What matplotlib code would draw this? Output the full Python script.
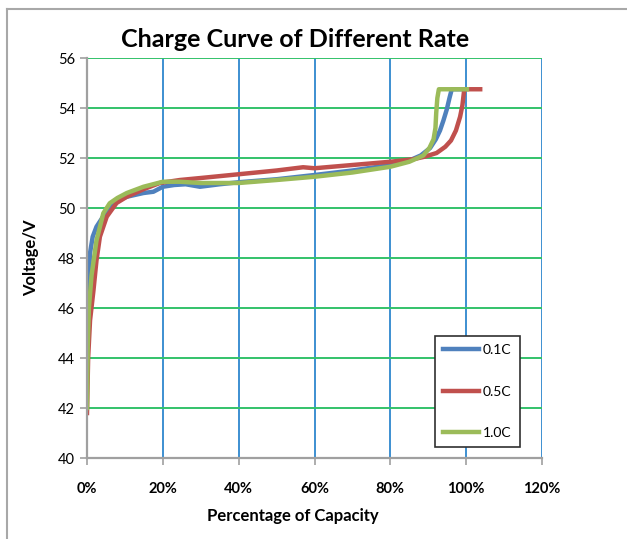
import matplotlib
matplotlib.use('Agg')
import matplotlib.pyplot as plt
from matplotlib.lines import Line2D
from matplotlib.ticker import FuncFormatter

# ── DATA ────────────────────────────────────────────────────────────────────
pct_01c = [0, 0.3, 0.8, 1.5, 2.5, 4, 5.2, 7.8, 10.5, 14.9, 17.5, 20, 23, 26,
           29.8, 35, 40, 50, 60, 70, 80, 85, 88, 90.5, 92, 93.1, 94, 94.9,
           95.6, 96.2, 98.5]
v_01c = [44.0, 46.6, 48.2, 48.85, 49.25, 49.6, 49.8, 50.3, 50.45, 50.6, 50.65,
         50.85, 50.92, 50.95, 50.85, 50.95, 51.03, 51.15, 51.32, 51.5, 51.72,
         51.9, 52.1, 52.4, 52.75, 53.1, 53.5, 53.95, 54.4, 54.75, 54.75]

pct_05c = [0, 0.3, 0.8, 1.7, 2.5, 3.4, 5.2, 7.8, 10.5, 14.9, 19.2, 24.5, 30,
           40, 50, 57, 60, 70, 80, 86, 89, 92.2, 94.5, 96, 97.3, 98.4, 99,
           99.5, 103.7]
v_05c = [41.8, 44.0, 45.5, 46.7, 47.9, 48.85, 49.65, 50.2, 50.45, 50.75, 51.0,
         51.12, 51.2, 51.35, 51.5, 51.63, 51.59, 51.72, 51.85, 51.95, 52.05,
         52.2, 52.45, 52.7, 53.1, 53.65, 54.1, 54.75, 54.75]

pct_10c = [0, 0.2, 0.5, 1.2, 2.5, 4.3, 6, 8, 10.5, 14.9, 20, 24.5, 30, 40,
           50, 60, 70, 80, 85, 88.7, 90.3, 91.4, 91.9, 92.1, 92.4, 92.8, 100.2]
v_10c = [42.0, 44.5, 46.0, 47.3, 48.7, 49.79, 50.19, 50.4, 50.6, 50.85, 51.05,
         51.05, 51.0, 51.0, 51.12, 51.25, 51.42, 51.65, 51.85, 52.1, 52.4,
         52.75, 53.2, 53.8, 54.4, 54.75, 54.75]

series = [("0.1C", pct_01c, v_01c, '#4F81BD'),
          ("0.5C", pct_05c, v_05c, '#C0504D'),
          ("1.0C", pct_10c, v_10c, '#9BBB59')]

x_ticks = [0, 20, 40, 60, 80, 100, 120]
y_ticks = [40, 42, 44, 46, 48, 50, 52, 54, 56]

plt.rcParams['font.family'] = ['Lato', 'DejaVu Sans']

# ── FIGURE ──────────────────────────────────────────────────────────────────
fig = plt.figure(figsize=(6.27, 5.39), dpi=100)
ax = fig.add_axes([87/627, 1 - 458/539, 455/627, 400/539])

for label, x, y, color in series:
    ax.plot(x, y, color=color, linewidth=3.2, label=label,
            solid_joinstyle='round', zorder=3)

ax.set_xlim(0, 120)
ax.set_ylim(40, 56)
ax.set_xticks(x_ticks)
ax.set_yticks(y_ticks)
ax.xaxis.set_major_formatter(FuncFormatter(lambda v, p: f"{int(v)}%"))

# gridlines: green horizontal, blue vertical
ax.yaxis.grid(True, color='#33C26A', linewidth=1.4)
ax.xaxis.grid(True, color='#3D8FD1', linewidth=1.4)
ax.set_axisbelow(True)

for s in ['top', 'right']:
    ax.spines[s].set_visible(False)
for s in ['left', 'bottom']:
    ax.spines[s].set_color('#A0A0A0')
    ax.spines[s].set_linewidth(1.6)
    ax.spines[s].set_zorder(4)

ax.tick_params(axis='both', direction='out', length=5, width=1.2,
               color='#A0A0A0', labelsize=10.5)
ax.tick_params(axis='x', pad=12)
for lbl in ax.get_xticklabels():
    lbl.set_fontweight('bold')

# Excel centres title / x label on the chart area, a bit left of the plot
ax.set_title("Charge Curve of Different Rate", fontsize=18,
             fontweight='bold', pad=8, x=(295 - 87) / 455)
ax.set_xlabel("Percentage of Capacity", fontsize=12, fontweight='bold',
              labelpad=9, x=(293 - 87) / 455)
ax.set_ylabel("Voltage/V", fontsize=12, fontweight='bold', labelpad=14)

leg = ax.legend(loc='lower left', bbox_to_anchor=(348/455, 11/400),
                fontsize=10, handlelength=2.6, labelspacing=2.1,
                handletextpad=0.25, borderpad=0.6, borderaxespad=0,
                fancybox=False, framealpha=1, edgecolor='#303030')
leg.get_frame().set_linewidth(1.2)
for h in leg.get_lines():
    h.set_linewidth(3.2)

# chart frame (top & left edges visible in the reference)
fig.add_artist(Line2D([7/627, 1], [1 - 9/539, 1 - 9/539],
                      color='#A8A8A8', linewidth=1.5))
fig.add_artist(Line2D([7/627, 7/627], [0, 1 - 9/539],
                      color='#A8A8A8', linewidth=1.5))

plt.savefig('out.png', dpi=100)
plt.close()
